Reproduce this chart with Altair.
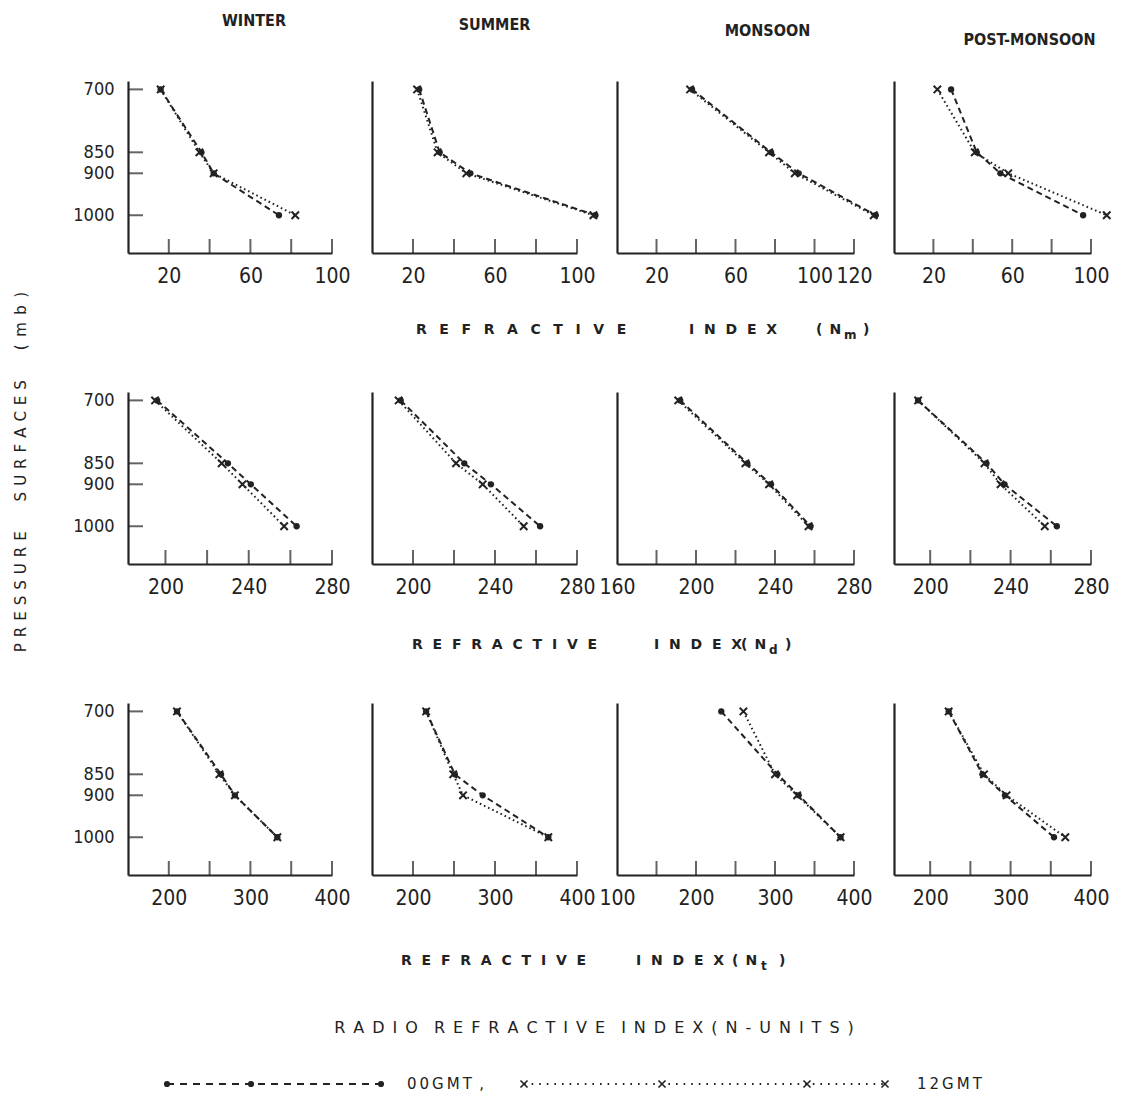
import altair as alt
import pandas as pd

# ---------------- data ----------------
PRESSURE = [700, 850, 900, 1000]
SEASONS = ["WINTER", "SUMMER", "MONSOON", "POST-MONSOON"]

# Refractive index N_m
NM_00GMT_WINTER = [16, 36, 42, 74]
NM_12GMT_WINTER = [16, 35, 42, 82]
NM_00GMT_SUMMER = [23, 33, 48, 109]
NM_12GMT_SUMMER = [22, 32, 46, 108]
NM_00GMT_MONSOON = [38, 78, 92, 131]
NM_12GMT_MONSOON = [37, 77, 90, 130]
NM_00GMT_POST = [29, 42, 54, 96]
NM_12GMT_POST = [22, 41, 58, 108]

# Refractive index N_d
ND_00GMT_WINTER = [196, 230, 241, 263]
ND_12GMT_WINTER = [195, 227, 237, 257]
ND_00GMT_SUMMER = [194, 225, 238, 262]
ND_12GMT_SUMMER = [193, 221, 234, 254]
ND_00GMT_MONSOON = [192, 226, 238, 258]
ND_12GMT_MONSOON = [191, 225, 237, 257]
ND_00GMT_POST = [194, 228, 237, 263]
ND_12GMT_POST = [194, 227, 235, 257]

# Refractive index N_t
NT_00GMT_WINTER = [210, 264, 281, 333]
NT_12GMT_WINTER = [210, 262, 281, 333]
NT_00GMT_SUMMER = [216, 251, 285, 365]
NT_12GMT_SUMMER = [216, 249, 261, 365]
NT_00GMT_MONSOON = [232, 303, 330, 383]
NT_12GMT_MONSOON = [260, 300, 328, 383]
NT_00GMT_POST = [223, 265, 293, 354]
NT_12GMT_POST = [223, 267, 295, 368]

# axis ranges / ticks / labels per panel
NM_DOMAINS = [[0, 100], [0, 100], [0, 120], [0, 100]]
NM_TICKS = [[20, 40, 60, 80, 100]] * 2 + [[20, 40, 60, 80, 100, 120]] + [[20, 40, 60, 80, 100]]
NM_LABELS = [[20, 60, 100]] * 2 + [[20, 60, 100, 120]] + [[20, 60, 100]]

ND_DOMAINS = [[182, 280], [180, 280], [160, 280], [182, 280]]
ND_TICKS = [[200, 220, 240, 260, 280]] * 2 + [[180, 200, 220, 240, 260, 280]] + [[200, 220, 240, 260, 280]]
ND_LABELS = [[200, 240, 280]] * 2 + [[160, 200, 240, 280]] + [[200, 240, 280]]

NT_DOMAINS = [[150, 400], [150, 400], [100, 400], [155, 400]]
NT_TICKS = [[200, 250, 300, 350, 400]] * 2 + [[150, 200, 250, 300, 350, 400]] + [[200, 250, 300, 350, 400]]
NT_LABELS = [[200, 300, 400]] * 2 + [[100, 200, 300, 400]] + [[200, 300, 400]]

Y_DOMAIN = [680, 1090]

# ---------------- style ----------------
INK = "#222222"
FONT = "DejaVu Sans"
NUMFONT = "DejaVu Sans Condensed"
H = 172
ROW_GAP = 139
WIDTHS = [204, 205, 237, 197]
TITLE_DX = [24, 20, 32, 37]
TITLE_OFF = [38, 35, 29, 20]
CROSS = "M -1 -1 L 1 1 M -1 1 L 1 -1"

EM = "\u2003"
EN = "\u2002"
G1 = "\u2002\u2009\u2009"
G3 = "\u2002\u2009"


def spaced(word, gap):
    return gap.join(list(word))


def txt(text, x, y, size=14, align="left", font=FONT, dy=0, angle=None, weight="normal"):
    kw = dict(align=align, baseline="middle", font=font, fontSize=size, fontWeight=weight,
              color=INK, dy=dy)
    if angle is not None:
        kw["angle"] = angle
    return alt.Chart(pd.DataFrame({"t": [text]})).mark_text(**kw).encode(
        text="t:N", x=alt.value(x), y=alt.value(y))


def row_title(sub, y, xs, gap1, gap2):
    return [
        txt(spaced("REFRACTIVE", gap1), xs[0], y, weight="bold"),
        txt(spaced("INDEX", gap2), xs[1], y, weight="bold"),
        txt("(\u2002N", xs[2], y, weight="bold"),
        txt(sub, xs[3], y, size=12, dy=5, weight="bold"),
        txt(")", xs[4], y, weight="bold"),
    ]


YTITLE = (spaced("PRESSURE", "\u2009\u2009") + EM + EM + spaced("SURFACES", "\u2009\u2009")
          + EM + EM + "(\u2002m\u2002b\u2002)")
RADIO = (spaced("RADIO", EN) + EN + EN + spaced("REFRACTIVE", EN) + EN + EN
         + spaced("INDEX(N-UNITS)", EN))


def legend_layers(y):
    out = [
        alt.Chart(pd.DataFrame({"a": [0]})).mark_rule(strokeDash=[7, 6], strokeWidth=2, color=INK).encode(
            x=alt.value(39), x2=alt.value(253), y=alt.value(y)),
        alt.Chart(pd.DataFrame({"a": [0]})).mark_rule(strokeDash=[1.6, 6], strokeWidth=2, color=INK).encode(
            x=alt.value(396), x2=alt.value(757), y=alt.value(y)),
    ]
    for xv in [39, 123, 253]:
        out.append(alt.Chart(pd.DataFrame({"a": [0]})).mark_point(
            shape="circle", filled=True, size=38, color=INK, opacity=1).encode(
            x=alt.value(xv), y=alt.value(y)))
    for xv in [396, 534, 679, 757]:
        out.append(alt.Chart(pd.DataFrame({"a": [0]})).mark_point(
            shape=CROSS, filled=False, size=50, strokeWidth=1.6, color=INK, opacity=1).encode(
            x=alt.value(xv), y=alt.value(y)))
    out.append(txt("0\u20090\u2009G\u2009M\u2009T\u2002,", 279, y, size=15))
    out.append(txt("1\u20092\u2009G\u2009M\u2009T", 789, y, size=15))
    return out


def panel(v00, v12, domain, ticks, labels, col, title=None, extra=None):
    df = pd.DataFrame({
        "pressure": PRESSURE * 2,
        "value": v00 + v12,
        "series": ["00GMT"] * 4 + ["12GMT"] * 4,
    })
    w = WIDTHS[col]
    xs = alt.Scale(domain=domain, nice=False, zero=False)
    ys = alt.Scale(domain=Y_DOMAIN, reverse=True, nice=False, zero=False)
    xaxis = alt.Axis(values=labels, ticks=False, grid=False, title=None, labelPadding=12,
                     format="d", labelFlush=False, labelOverlap=False, labelFontSize=21)
    yaxis = alt.Axis(values=PRESSURE, ticks=False, grid=False, title=None, labels=(col == 0),
                     labelPadding=14, format="d", labelOverlap=False, labelFontSize=18)
    X = alt.X("value:Q", scale=xs, axis=xaxis)
    Y = alt.Y("pressure:Q", scale=ys, axis=yaxis)
    base = alt.Chart(df)
    l00 = base.transform_filter(alt.datum.series == "00GMT").mark_line(
        strokeDash=[6, 4], strokeWidth=2, color=INK).encode(x=X, y=Y, order="pressure:Q")
    l12 = base.transform_filter(alt.datum.series == "12GMT").mark_line(
        strokeDash=[1.6, 3], strokeWidth=2, color=INK).encode(x=X, y=Y, order="pressure:Q")
    p00 = base.transform_filter(alt.datum.series == "00GMT").mark_point(
        shape="circle", filled=True, size=40, color=INK, opacity=1).encode(x=X, y=Y)
    p12 = base.transform_filter(alt.datum.series == "12GMT").mark_point(
        shape=CROSS, filled=False, size=55, strokeWidth=2, color=INK, opacity=1).encode(x=X, y=Y)
    xt = alt.Chart(pd.DataFrame({"value": ticks})).mark_tick(
        size=14, thickness=2, color=INK).encode(x=X, y=alt.value(H - 7))
    layers = [l00, l12, p00, p12, xt]
    if col == 0:
        yt = alt.Chart(pd.DataFrame({"pressure": PRESSURE})).mark_tick(
            size=15, thickness=2, color=INK).encode(y=Y, x=alt.value(7.5))
        layers.append(yt)
    if extra:
        layers += extra
    ch = alt.layer(*layers).properties(width=w, height=H)
    if title is not None:
        ch = ch.properties(title=alt.TitleParams(
            text=title, offset=TITLE_OFF[col], dx=TITLE_DX[col], baseline="alphabetic",
            frame="group", font=NUMFONT, fontSize=16, fontWeight="bold", color=INK))
    return ch


rows_data = [
    (NM_DOMAINS, NM_TICKS, NM_LABELS,
     [(NM_00GMT_WINTER, NM_12GMT_WINTER), (NM_00GMT_SUMMER, NM_12GMT_SUMMER),
      (NM_00GMT_MONSOON, NM_12GMT_MONSOON), (NM_00GMT_POST, NM_12GMT_POST)]),
    (ND_DOMAINS, ND_TICKS, ND_LABELS,
     [(ND_00GMT_WINTER, ND_12GMT_WINTER), (ND_00GMT_SUMMER, ND_12GMT_SUMMER),
      (ND_00GMT_MONSOON, ND_12GMT_MONSOON), (ND_00GMT_POST, ND_12GMT_POST)]),
    (NT_DOMAINS, NT_TICKS, NT_LABELS,
     [(NT_00GMT_WINTER, NT_12GMT_WINTER), (NT_00GMT_SUMMER, NT_12GMT_SUMMER),
      (NT_00GMT_MONSOON, NT_12GMT_MONSOON), (NT_00GMT_POST, NT_12GMT_POST)]),
]

# annotation layers attached to the first panel of each row (positions relative to that panel)
EXTRAS = [
    row_title("m", 249, [288, 561, 688, 716, 735], G1, G3),
    row_title("d", 253, [284, 526, 613, 641, 657], G3, G3)
    + [txt(YTITLE, -107, 80, size=15, angle=270, align="center")],
    row_title("t", 258, [273, 508, 604, 633, 651], G3, G3)
    + [txt(RADIO, 466, 325, size=16, align="center")]
    + legend_layers(381),
]

panels = []
for r, (doms, tks, lbls, series) in enumerate(rows_data):
    for c in range(4):
        panels.append(panel(series[c][0], series[c][1], doms[c], tks[c], lbls[c], c,
                            title=SEASONS[c] if r == 0 else None,
                            extra=EXTRAS[r] if c == 0 else None))

chart = alt.concat(
    *panels, columns=4, spacing=alt.RowColnumber(row=ROW_GAP, column=40),
    bounds="flush", align="each",
).configure(
    background="white", padding=5,
).configure_view(
    stroke=None
).configure_axis(
    labelFont=NUMFONT, labelColor=INK, domainColor=INK, domainWidth=2.2,
)

chart.save("out.html", embed_options={"renderer": "svg", "actions": False})
